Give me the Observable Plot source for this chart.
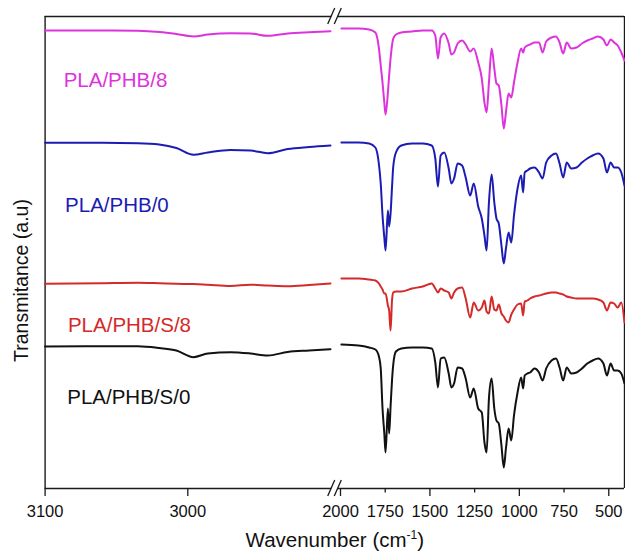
<!DOCTYPE html>
<html>
<head>
<meta charset="utf-8">
<script src="https://cdn.jsdelivr.net/npm/d3@7"></script>
<script src="https://cdn.jsdelivr.net/npm/@observablehq/plot@0.6"></script>
<style>
  html, body { margin: 0; padding: 0; background: #fff; }
  svg { display: block; }
</style>
</head>
<body>
<div id="chart"></div>
<script>
// ---- Series names and colours ----
const names  = ["PLA/PHB/8", "PLA/PHB/0", "PLA/PHB/S/8", "PLA/PHB/S/0"];
const colors = ["#dd33dd", "#1c1cb4", "#d42a2a", "#111111"];

// ---- Wavenumbers (cm-1), two pieces of the broken axis ----
const wnLeft  = [3100, 3060, 3035, 3020, 3008, 2996, 2986, 2970, 2956, 2944, 2930, 2915, 2900];
const wnRight = [1995, 1900, 1840, 1805, 1785, 1775, 1765, 1755, 1748, 1735, 1728, 1720, 1712, 1705, 1690,
  1660, 1600, 1540, 1490, 1470, 1455, 1440, 1420, 1395, 1380, 1365, 1345, 1320, 1300, 1275, 1255, 1230,
  1210, 1195, 1183, 1170, 1155, 1140, 1128, 1115, 1100, 1087, 1075, 1060, 1045, 1030, 1010, 990, 979, 970,
  955, 940, 915, 890, 870, 850, 820, 795, 775, 755, 735, 710, 680, 650, 620, 590, 560, 530, 510, 490, 470,
  450, 430, 412];

// ---- Transmittance (a.u., stacked) ----
const leftPHB8  = [458, 458, 457.7, 456.5, 454.5, 452, 454, 455.3, 455, 452.7, 455, 456.3, 457.3];
const leftPHB0  = [345.7, 345.7, 345.3, 344, 340.5, 333.7, 336, 338.5, 338, 335.3, 339.5, 341.5, 343];
const leftPHBS8 = [204.7, 205.3, 205.7, 205.2, 204.7, 204.4, 203.7, 202.5, 203.8, 203, 202.3, 203.5, 205];
const leftPHBS0 = [142, 142.3, 142.3, 140.5, 138, 131.3, 135, 136.3, 135, 133, 136.5, 138, 139.3];

const rightPHB8 = [460, 460, 459, 456, 440, 423, 406, 386, 374, 396, 413, 430, 443, 450, 454,
  456, 457, 458, 458, 453, 430, 451, 455, 445, 434, 436, 445, 448, 444, 437, 440, 426,
  410, 386, 376, 406, 440, 420, 405, 403, 383, 360, 376, 395, 391, 406, 426, 440, 436, 441,
  443, 444, 446, 446, 436, 447, 451, 452, 446, 435, 446, 440, 441, 445, 448, 450, 452, 449, 443, 449, 446,
  443, 436, 428];
const rightPHB0 = [346, 346, 345, 341, 324, 305, 273, 251, 238, 278, 262, 275, 301, 322, 336,
  343, 345, 345, 343, 330, 302, 333, 336, 320, 305, 310, 325, 323, 311, 293, 305, 282,
  270, 253, 238, 286, 314, 286, 270, 265, 243, 225, 240, 256, 246, 273, 300, 313, 296, 316,
  318, 320, 321, 316, 310, 326, 333, 335, 325, 311, 326, 320, 321, 326, 330, 333, 335, 330, 316, 326, 321,
  321, 316, 303];
const rightPHBS8 = [210, 210, 209, 208, 205, 202, 199, 195, 195, 183, 178, 158, 188, 196, 197,
  197, 200, 202, 205, 200, 196, 200, 198, 196, 190, 196, 200, 201, 190, 171, 186, 178,
  181, 188, 177, 175, 192, 179, 178, 184, 175, 172, 168, 166, 174, 179, 184, 185, 173, 187,
  188, 190, 192, 193, 194, 195, 196, 196, 195, 194, 192, 191, 190, 190, 190, 190, 189, 186, 178, 186, 185,
  181, 186, 166];
const rightPHBS0 = [144, 143, 141, 139, 132, 120, 80, 55, 36, 80, 55, 82, 108, 124, 137,
  140, 141, 141, 140, 126, 101, 130, 131, 115, 101, 105, 121, 120, 110, 91, 100, 80,
  76, 46, 36, 90, 110, 80, 68, 65, 43, 21, 40, 60, 48, 73, 96, 111, 100, 113,
  115, 116, 120, 116, 108, 120, 128, 130, 121, 108, 121, 115, 116, 120, 125, 128, 130, 125, 113, 125, 118,
  118, 115, 105];

// ---- Label placement (data units) ----
const labelWn = [3087, 3086, 3084, 3084.5];
const labelV  = [408, 283, 163, 91];

// ---- Axis ticks ----
const xTicksMajor = [3100, 3000, 2000, 1500, 1000, 500];
const xTicksMinor = [1750, 1250, 750];
const xTickLabels = [3100, 3000, 2000, 1750, 1500, 1250, 1000, 750, 500];
const xTitleMain = "Wavenumber (cm", xTitleSup = "-1", xTitleEnd = ")";
const yTitle = "Transmitance (a.u)";

// ---- Axis break ----
const xPieces = [3100, 2900, 2000, 412];   // piecewise domain
const breakWn = [2790, 2200];               // positions of the "//" marks inside the gap
const yFrame = [0, 472];

// ---- Build rows ----
const seriesLeft = [leftPHB8, leftPHB0, leftPHBS8, leftPHBS0];
const seriesRight = [rightPHB8, rightPHB0, rightPHBS8, rightPHBS0];
const rows = [];
names.forEach((name, i) => {
  wnLeft.forEach((wn, j) => rows.push({name, seg: "L", wn, v: seriesLeft[i][j]}));
  wnRight.forEach((wn, j) => rows.push({name, seg: "R", wn, v: seriesRight[i][j]}));
});
const labels = names.map((name, i) => ({name, wn: labelWn[i], v: labelV[i]}));

const frameColor = "#1a1a1a";
const FONT = "'Liberation Sans', Arial, Helvetica, sans-serif";

function breakMarks(index, scales) {
  const g = d3.create("svg:g").attr("stroke", frameColor).attr("stroke-width", 1.3).attr("fill", "none");
  for (const wn of breakWn) for (const v of yFrame) {
    const cx = scales.x(wn), cy = scales.y(v);
    g.append("line").attr("x1", cx - 3.5).attr("y1", cy + 8).attr("x2", cx + 3.5).attr("y2", cy - 8);
  }
  return g.node();
}

const chart = Plot.plot({
  width: 625,
  height: 557,
  marginLeft: 44.6,
  marginRight: 1,
  marginTop: 16,
  marginBottom: 69,
  style: {fontFamily: FONT, fontSize: "16.5px", color: "#111", background: "#fff"},
  x: {type: "linear", domain: xPieces, range: [44.6, 330, 340, 624], axis: null},
  y: {domain: [0, 472], range: [488, 16], axis: null},
  color: {domain: names, range: colors},
  marks: [
    // frame with break
    Plot.ruleX([xPieces[0], xPieces[3]], {y1: yFrame[0], y2: yFrame[1], stroke: frameColor, strokeWidth: 1.4}),
    Plot.ruleY(yFrame, {x1: xPieces[0], x2: breakWn[0], stroke: frameColor, strokeWidth: 1.4}),
    Plot.ruleY(yFrame, {x1: breakWn[1], x2: xPieces[3], stroke: frameColor, strokeWidth: 1.4}),
    breakMarks,
    // ticks
    Plot.axisX(xTicksMajor, {anchor: "bottom", tickSize: 8, fill: "none", label: null, stroke: frameColor, strokeWidth: 1.3}),
    Plot.axisX(xTicksMinor, {anchor: "bottom", tickSize: 4.5, fill: "none", label: null, stroke: frameColor, strokeWidth: 1.3}),
    Plot.axisX(xTickLabels, {anchor: "bottom", tickSize: 0, tickPadding: 17, label: null, fontSize: 16.5, fill: "#111", tickFormat: d => String(d)}),
    // spectra
    Plot.line(rows, {x: "wn", y: "v", z: d => d.name + d.seg, stroke: "name", strokeWidth: 2, strokeLinejoin: "round", curve: "monotone-x"}),
    // series labels
    Plot.text(labels, {x: "wn", y: "v", text: "name", fill: "name", textAnchor: "start", fontSize: 20.5}),
    // axis titles
    Plot.text([yTitle], {frameAnchor: "left", textAnchor: "middle", y: 208, dx: -23, rotate: -90, fontSize: 19.5, fill: "#111"}),
    Plot.text([xTitleMain + xTitleSup + xTitleEnd], {frameAnchor: "bottom", textAnchor: "middle", dy: 58, fontSize: 20.5, fill: "#111"})
  ]
});

// superscript in the x title
chart.querySelectorAll("text").forEach(t => {
  if (t.textContent === xTitleMain + xTitleSup + xTitleEnd) {
    t.textContent = "";
    const ns = "http://www.w3.org/2000/svg";
    const a = document.createElementNS(ns, "tspan"); a.textContent = xTitleMain;
    const b = document.createElementNS(ns, "tspan"); b.textContent = xTitleSup;
    b.setAttribute("dy", "-8"); b.setAttribute("font-size", "12");
    const c = document.createElementNS(ns, "tspan"); c.textContent = xTitleEnd;
    c.setAttribute("dy", "8");
    t.append(a, b, c);
  }
});

document.getElementById("chart").append(chart);
</script>
</body>
</html>
